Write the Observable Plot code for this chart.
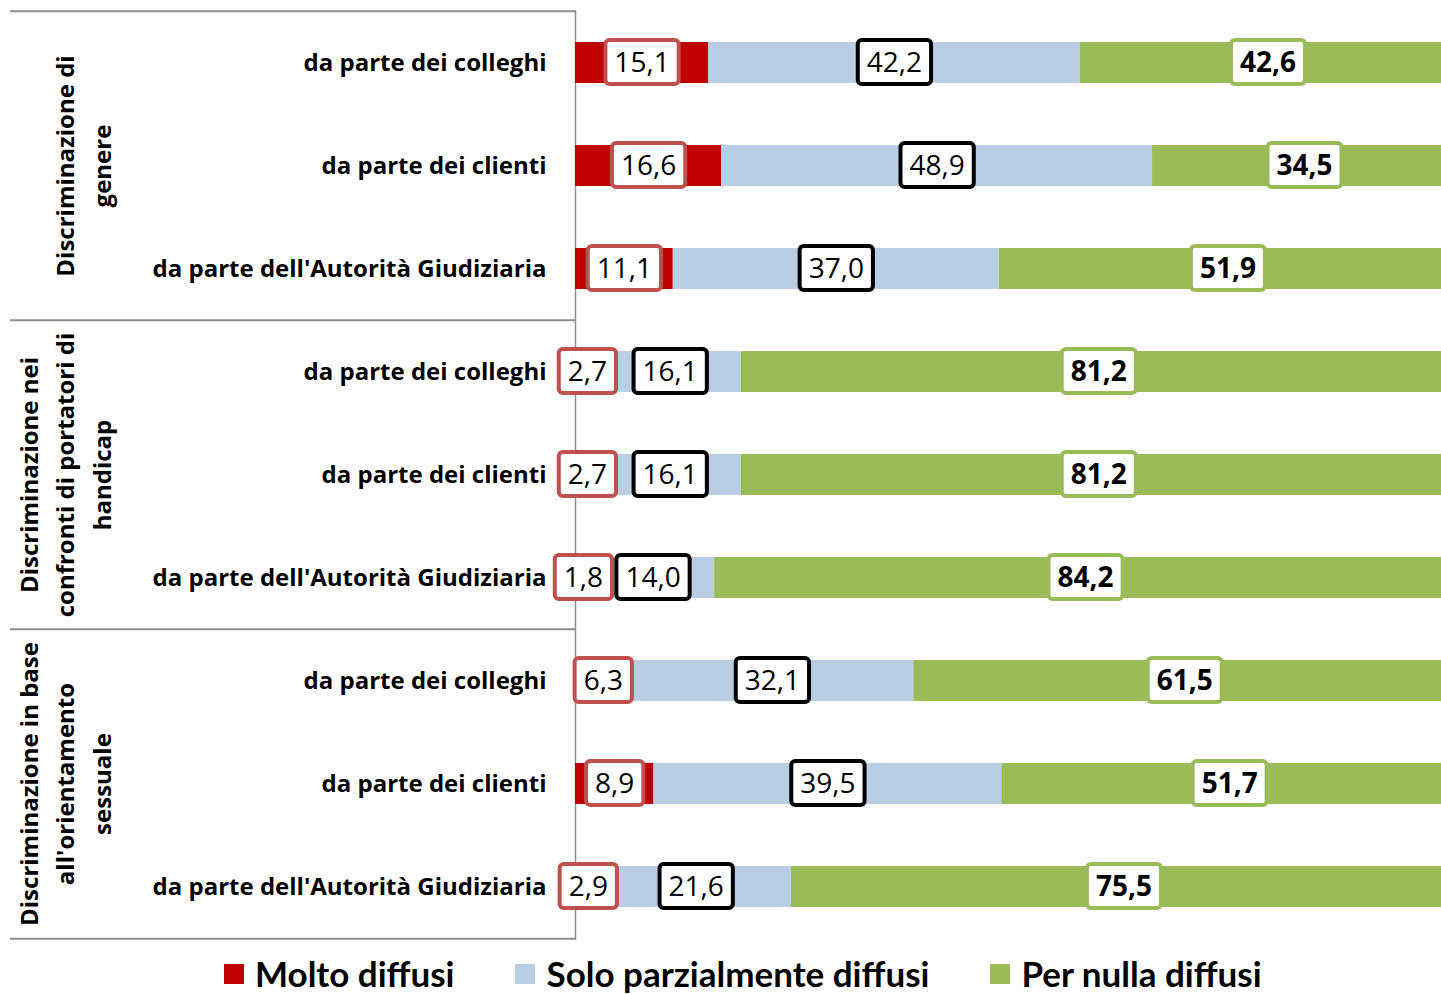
<!DOCTYPE html>
<html><head><meta charset="utf-8">
<script src="https://cdn.jsdelivr.net/npm/d3@7"></script>
<script src="https://cdn.jsdelivr.net/npm/@observablehq/plot@0.6"></script>
<style>
html,body{margin:0;padding:0;background:#fff;}
body{width:1441px;height:994px;overflow:hidden;font-family:"Open Sans",sans-serif;}
#chart svg{display:block;}
#legend{display:flex;align-items:center;height:41px;padding-top:3px;padding-left:224px;font-family:Lato,sans-serif;font-weight:700;font-size:35px;line-height:1;color:#000;white-space:nowrap;}
#legend .item{display:flex;align-items:center;margin-right:61px;}
#legend .sw{width:20px;height:20px;margin-right:11px;flex:none;}
</style></head><body>
<div id="chart"></div>
<div id="legend"></div>
<script>
// ---- data ----
const groups = ["Discriminazione di\ngenere", "Discriminazione nei\nconfronti di portatori di\nhandicap", "Discriminazione in base\nall'orientamento\nsessuale"];
const subjects = ["da parte dei colleghi", "da parte dei clienti", "da parte dell'Autorità Giudiziaria"];
const series = ["Molto diffusi", "Solo parzialmente diffusi", "Per nulla diffusi"];
const molto    = [15.1, 16.6, 11.1, 2.7, 2.7, 1.8, 6.3, 8.9, 2.9];
const parziale = [42.2, 48.9, 37.0, 16.1, 16.1, 14.0, 32.1, 39.5, 21.6];
const nulla    = [42.6, 34.5, 51.9, 81.2, 81.2, 84.2, 61.5, 51.7, 75.5];
const barColors = ["#C00000", "#B9CDE5", "#9BBB59"];
const boxColors = ["#C0504D", "#000000", "#9BBB59"];

// ---- table built from arrays ----
const rowIds = groups.flatMap((g, gi) => subjects.map((s, si) => `r${gi * 3 + si}`));
const values = [molto, parziale, nulla];
const long = [];
rowIds.forEach((row, i) => {
  let acc = 0;
  values.forEach((arr, k) => {
    const v = arr[i];
    long.push({row, series: series[k], k, value: v, x1: acc, x2: acc + v, mid: acc + v / 2});
    acc += v;
  });
});
const groupData = groups.map((label, gi) => ({label, mid: rowIds[gi * 3 + 1]}));
const fmt = v => d3.format(".1f")(v).replace(".", ",");

// ---- layout ----
const W = 1441, H = 950, mT = 10, mB = 10, mL = 575;
const xRange = [mL, mL + 881];
const xs = Plot.scale({x: {domain: [0, 100], range: xRange}});
const ys = Plot.scale({y: {type: "band", domain: rowIds, range: [mT, H - mB], paddingInner: 0.6, paddingOuter: 0.3}});
const step = ys.step ?? (H - mT - mB) / rowIds.length;
const gray = "#8e8e8e";

const chart = Plot.plot({
  width: W, height: H,
  marginTop: mT, marginBottom: mB, marginLeft: mL, marginRight: 0,
  style: {fontFamily: "'Open Sans', sans-serif", color: "#000", background: "#fff", overflow: "hidden"},
  x: {domain: [0, 100], range: xRange, axis: null},
  y: {domain: rowIds, paddingInner: 0.6, paddingOuter: 0.3},
  color: {domain: series, range: barColors},
  marks: [
    Plot.ruleX([0], {stroke: gray, strokeWidth: 1.5}),
    Plot.ruleY([0, 3, 6].map(i => rowIds[i]), {y: d => d, x1: xs.invert(10), x2: 0, dy: -step / 2, stroke: gray, strokeWidth: 2}),
    Plot.ruleY([rowIds[8]], {y: d => d, x1: xs.invert(10), x2: 0, dy: step / 2, stroke: gray, strokeWidth: 2}),
    Plot.barX(long, {x1: "x1", x2: "x2", y: "row", fill: "series", inset: 0}),
    Plot.axisY({tickSize: 0, tickPadding: 29, tickFormat: d => subjects[rowIds.indexOf(d) % 3], fontSize: 24, fontWeight: "bold", fill: "#000"}),
    Plot.text(groupData, {y: "mid", text: "label", frameAnchor: "left", dx: -465, rotate: -90, textAnchor: "middle", lineAnchor: "bottom", fontSize: 24, fontWeight: "bold", lineHeight: 1.52, fill: "#000"}),
    ...[0, 1, 2].map(k => Plot.text(long.filter(d => d.k === k), {
      x: "mid", y: "row", text: d => fmt(d.value), fontSize: 28,
      fontWeight: k === 2 ? "bold" : "normal", fill: "#000", className: `vlab${k}`
    }))
  ]
});
document.getElementById("chart").appendChild(chart);

// label boxes behind value texts
const svg = chart.tagName.toLowerCase() === "svg" ? chart : chart.querySelector("svg");
[0, 1, 2].forEach(k => {
  svg.querySelectorAll(`g.vlab${k} text`).forEach(t => {
    const b = t.getBBox();
    const r = document.createElementNS("http://www.w3.org/2000/svg", "rect");
    const tr = t.getAttribute("transform");
    if (tr) r.setAttribute("transform", tr);
    const cy = b.y + b.height / 2 + 1;
    r.setAttribute("x", b.x - 9);
    r.setAttribute("width", b.width + 18);
    r.setAttribute("y", cy - 22);
    r.setAttribute("height", 44);
    r.setAttribute("rx", 4);
    r.setAttribute("fill", "#fff");
    r.setAttribute("stroke", boxColors[k]);
    r.setAttribute("stroke-width", 4);
    t.parentNode.insertBefore(r, t);
  });
});

// legend
const leg = document.getElementById("legend");
series.forEach((s, k) => {
  const it = document.createElement("div");
  it.className = "item";
  const sw = document.createElement("div");
  sw.className = "sw";
  sw.style.background = barColors[k];
  const tx = document.createElement("span");
  tx.textContent = s;
  it.appendChild(sw); it.appendChild(tx);
  leg.appendChild(it);
});
</script>
</body></html>
